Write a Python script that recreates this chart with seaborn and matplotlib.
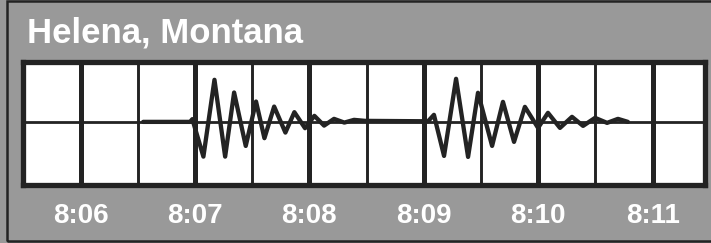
import matplotlib
matplotlib.use("Agg")
import matplotlib.pyplot as plt
import seaborn as sns
import pandas as pd
from matplotlib.patches import Rectangle

# seismograph trace: seconds after 8:06:00 and amplitude (box half height = 1)
t_sec = [32.8, 57.4, 58.6, 64.4, 70.2, 75.8, 80.5, 86.6, 92.0, 96.4, 101.5,
         107.4, 112.1, 117.7, 122.6, 127.7, 132.9, 138.3, 143.4, 149.2,
         182.2, 185.3, 190.6, 196.9, 203.2, 208.4, 215.8, 221.5, 227.3, 233.0,
         239.9, 245.1, 251.4, 257.7, 263.5, 269.8, 276.1, 281.8, 287.0]
amp = [0.0, 0.0, 0.046, -0.588, 0.712, -0.588, 0.497, -0.407, 0.344, -0.276, 0.259,
       -0.181, 0.164, -0.107, 0.102, -0.063, 0.051, -0.012, 0.034, 0.017,
       0.01, 0.119, -0.576, 0.729, -0.593, 0.492, -0.407, 0.339, -0.339, 0.254,
       -0.102, 0.153, -0.102, 0.085, -0.068, 0.068, -0.017, 0.051, 0.0]

tick_sec = [0, 60, 120, 180, 240, 300]
tick_labels = ["8:06", "8:07", "8:08", "8:09", "8:10", "8:11"]
half_sec = [30, 90, 150, 210, 270]

DARK = "#232323"
GREY = "#999999"

sns.set_style("white")
plt.rcParams['font.family'] = ['Liberation Sans', 'DejaVu Sans']

W, H = 711, 243
fig = plt.figure(figsize=(W / 100, H / 100), dpi=100, facecolor=GREY)

# outer frame of the panel
fig.patches.append(Rectangle((7 / W, 2 / H), 720 / W, 240 / H, transform=fig.transFigure,
                             fill=False, edgecolor=DARK, lw=1.8, clip_on=False))

fig.text(27 / W, 1 - 42 / H, "Helena, Montana", fontsize=25, fontweight="bold",
         color="white", va="baseline", ha="left")

ax = fig.add_axes([23.4 / W, 1 - 184.5 / H, (704.9 - 23.4) / W, (184.5 - 62.2) / H])
ax.set_facecolor("white")

df = pd.DataFrame({"t": t_sec, "a": amp})
sns.lineplot(data=df, x="t", y="a", ax=ax, color=DARK, lw=3.1, sort=False, zorder=3)

ax.set_xlim(-30, 327.4)
ax.set_ylim(-1.06, 1.01)
ax.set_xticks(tick_sec)
ax.set_xticklabels(tick_labels, fontsize=20, fontweight="bold", color="white")
ax.set_xticks(half_sec, minor=True)
ax.set_yticks([0])
ax.set_yticklabels([])
ax.set_xlabel("")
ax.set_ylabel("")

ax.grid(False)
ax.grid(which="major", axis="x", color=DARK, lw=3.6)
ax.grid(which="minor", axis="x", color=DARK, lw=2.1)
ax.grid(which="major", axis="y", color=DARK, lw=2.0)
ax.set_axisbelow(True)
ax.tick_params(axis="both", which="both", length=0)
ax.tick_params(axis="x", pad=13)

for s in ax.spines.values():
    s.set_visible(True)
    s.set_color(DARK)
    s.set_linewidth(3.8)
    s.set_zorder(4)

fig.savefig("out.png", dpi=100, facecolor=GREY)
